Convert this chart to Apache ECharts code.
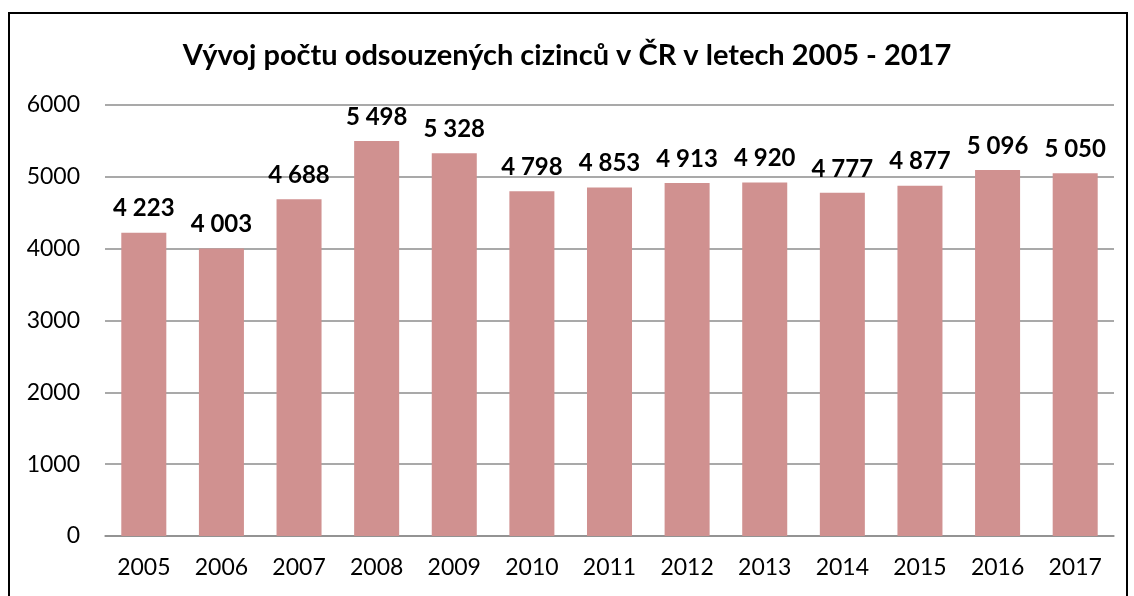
<!DOCTYPE html>
<html>
<head>
<meta charset="utf-8">
<script src="https://cdn.jsdelivr.net/npm/echarts@6/dist/echarts.min.js"></script>
<style>
  html, body { margin: 0; padding: 0; background: #fff; }
  #container { width: 1134px; height: 596px; position: relative; }
  #frame { position: absolute; left: 8px; top: 12px; width: 1120px; height: 600px; border: 2px solid #000; box-sizing: border-box; pointer-events: none; }
</style>
</head>
<body>
<div id="container"></div>
<div id="frame"></div>
<script>
var years = ['2005','2006','2007','2008','2009','2010','2011','2012','2013','2014','2015','2016','2017'];
var convicted = [4223, 4003, 4688, 5498, 5328, 4798, 4853, 4913, 4920, 4777, 4877, 5096, 5050];
var yTicks = [0, 1000, 2000, 3000, 4000, 5000, 6000];

var myChart = echarts.init(document.getElementById('container'));
var option = {
    animation: false,
    title: {
        text: 'Vývoj počtu odsouzených cizinců v ČR v letech 2005 - 2017',
        left: 'center',
        top: 36,
        textStyle: { fontFamily: 'Lato', fontSize: 29, fontWeight: 'bold', color: '#000' }
    },
    grid: { left: 105, right: 20, top: 105, bottom: 60 },
    xAxis: {
        type: 'category',
        data: years,
        axisTick: { show: false },
        axisLine: { lineStyle: { color: '#8c8c8c', width: 1.5 } },
        axisLabel: { fontFamily: 'Lato', fontSize: 23, color: '#000', margin: 20 }
    },
    yAxis: {
        type: 'value',
        min: yTicks[0],
        max: yTicks[yTicks.length - 1],
        interval: 1000,
        axisLabel: {
            fontFamily: 'Lato', fontSize: 23, color: '#000', margin: 25,
            formatter: function (v) { return String(v); }
        },
        splitLine: { lineStyle: { color: '#8c8c8c', width: 1.5 } }
    },
    series: [{
        type: 'bar',
        data: convicted,
        barWidth: '58%',
        itemStyle: { color: '#d09190' },
        label: {
            show: true,
            position: 'top',
            distance: 12,
            fontFamily: 'Lato',
            fontSize: 24,
            fontWeight: 'bold',
            color: '#000',
            formatter: function (p) {
                return String(p.value).replace(/\B(?=(\d{3})+(?!\d))/g, ' ');
            }
        }
    }]
};
myChart.setOption(option);
</script>
</body>
</html>
